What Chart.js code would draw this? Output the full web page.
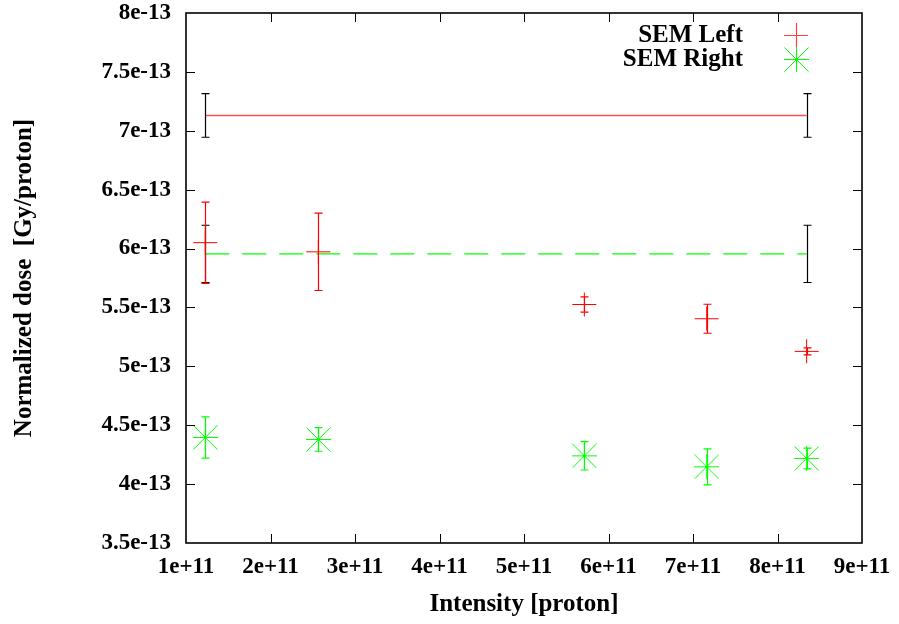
<!DOCTYPE html>
<html>
<head>
<meta charset="utf-8">
<script src="https://cdn.jsdelivr.net/npm/chart.js@4.4.1/dist/chart.umd.min.js"></script>
<style>
  html, body { margin: 0; padding: 0; background: #fff; }
  #wrap { width: 899px; height: 624px; position: relative; }
</style>
</head>
<body>
<div id="wrap"><canvas id="doseChart"></canvas></div>
<script>
// measured points
const intensity = [1.228e11, 2.566e11, 5.714e11, 7.162e11, 8.345e11];
const semLeft = [6.05e-13, 5.972e-13, 5.525e-13, 5.404e-13, 5.127e-13];
const semLeftErr = [0.345e-13, 0.328e-13, 0.065e-13, 0.123e-13, 0.03e-13];
const semRight = [4.396e-13, 4.379e-13, 4.24e-13, 4.147e-13, 4.218e-13];
const semRightErr = [0.175e-13, 0.1e-13, 0.12e-13, 0.153e-13, 0.088e-13];

// mean levels with their errors
const leftMean = 7.13e-13;
const leftMeanErr = 0.185e-13;
const rightMean = 5.955e-13;
const rightMeanErr = 0.243e-13;

const xTickLabels = ["1e+11", "2e+11", "3e+11", "4e+11", "5e+11", "6e+11", "7e+11", "8e+11", "9e+11"];
const yTickLabels = ["3.5e-13", "4e-13", "4.5e-13", "5e-13", "5.5e-13", "6e-13", "6.5e-13", "7e-13", "7.5e-13", "8e-13"];
const xTickValues = xTickLabels.map(Number);
const yTickValues = yTickLabels.map(Number);

const RED = "#ff0000";
const GREEN = "#00ff00";
const FONT = "'Liberation Serif', 'Times New Roman', serif";

// gnuplot style star: plus with full length diagonals
function makeStar(r, color) {
  const c = document.createElement("canvas");
  c.width = c.height = 2 * r + 1;
  const g = c.getContext("2d");
  const m = r + 0.5;
  g.strokeStyle = color;
  g.lineWidth = 1;
  g.beginPath();
  g.moveTo(0, m); g.lineTo(2 * r + 1, m);
  g.moveTo(m, 0); g.lineTo(m, 2 * r + 1);
  g.moveTo(0.5, 0.5); g.lineTo(2 * r + 0.5, 2 * r + 0.5);
  g.moveTo(2 * r + 0.5, 0.5); g.lineTo(0.5, 2 * r + 0.5);
  g.stroke();
  return c;
}
const star = makeStar(12, GREEN);

const toPoints = (ys) => ys.map((y, i) => ({ x: intensity[i], y: y }));
const span = [intensity[0], intensity[intensity.length - 1]];

const errorBars = {
  id: "errorBars",
  afterDatasetsDraw(chart) {
    const ctx = chart.ctx;
    const ys = chart.scales.y;
    chart.data.datasets.forEach((ds, di) => {
      if (!ds.yErr) return;
      const meta = chart.getDatasetMeta(di);
      ctx.save();
      ctx.strokeStyle = ds.errColor || ds.borderColor;
      ctx.lineWidth = 1.2;
      meta.data.forEach((el, i) => {
        const err = ds.yErr[i];
        if (err == null) return;
        const v = ds.data[i].y;
        const x = Math.round(el.x) + 0.5;
        const top = ys.getPixelForValue(v + err);
        const bot = ys.getPixelForValue(v - err);
        ctx.beginPath();
        ctx.moveTo(x, top); ctx.lineTo(x, bot);
        ctx.moveTo(x - 4, top); ctx.lineTo(x + 4, top);
        ctx.moveTo(x - 4, bot); ctx.lineTo(x + 4, bot);
        ctx.stroke();
      });
      ctx.restore();
    });
  }
};

// frame, inward ticks on all sides, and the key
const frame = {
  id: "frame",
  afterDraw(chart) {
    const { ctx, chartArea: a, scales } = chart;
    ctx.save();
    ctx.strokeStyle = "#000";
    ctx.lineWidth = 1;
    ctx.beginPath();
    xTickValues.slice(1, -1).forEach((v) => {
      const x = Math.round(scales.x.getPixelForValue(v)) + 0.5;
      ctx.moveTo(x, a.bottom); ctx.lineTo(x, a.bottom - 9);
      ctx.moveTo(x, a.top); ctx.lineTo(x, a.top + 9);
    });
    yTickValues.slice(1, -1).forEach((v) => {
      const y = Math.round(scales.y.getPixelForValue(v)) + 0.5;
      ctx.moveTo(a.left, y); ctx.lineTo(a.left + 9, y);
      ctx.moveTo(a.right, y); ctx.lineTo(a.right - 9, y);
    });
    ctx.stroke();
    ctx.lineWidth = 1.6;
    ctx.strokeRect(a.left, a.top, a.right - a.left, a.bottom - a.top);

    // key
    ctx.fillStyle = "#000";
    ctx.font = "bold 25px " + FONT;
    ctx.textAlign = "right";
    ctx.textBaseline = "middle";
    ctx.fillText("SEM Left", 743, 36);
    ctx.fillText("SEM Right", 743, 60);
    ctx.strokeStyle = "#ff4040";
    ctx.lineWidth = 1.2;
    ctx.beginPath();
    ctx.moveTo(784, 35.5); ctx.lineTo(808, 35.5);
    ctx.moveTo(796.5, 23); ctx.lineTo(796.5, 47);
    ctx.stroke();
    ctx.drawImage(star, 796 - 12, 59 - 12);
    ctx.restore();
  }
};

const ctx = document.getElementById("doseChart");
new Chart(ctx, {
  type: "scatter",
  data: {
    datasets: [
      {
        label: "SEM Left mean",
        data: span.map((x) => ({ x: x, y: leftMean })),
        showLine: true,
        borderColor: "#ff5050",
        borderWidth: 1.4,
        pointRadius: 0,
        yErr: [leftMeanErr, leftMeanErr],
        errColor: "#000"
      },
      {
        label: "SEM Right mean",
        data: span.map((x) => ({ x: x, y: rightMean })),
        showLine: true,
        borderColor: GREEN,
        borderWidth: 1.2,
        borderDash: [24, 13],
        pointRadius: 0,
        yErr: [rightMeanErr, rightMeanErr],
        errColor: "#000"
      },
      {
        label: "SEM Left",
        data: toPoints(semLeft),
        yErr: semLeftErr,
        borderColor: RED,
        backgroundColor: RED,
        pointStyle: "cross",
        pointRadius: 12,
        pointBorderWidth: 1
      },
      {
        label: "SEM Right",
        data: toPoints(semRight),
        yErr: semRightErr,
        borderColor: GREEN,
        backgroundColor: GREEN,
        pointStyle: star,
        pointRadius: 12
      }
    ]
  },
  options: {
    responsive: true,
    maintainAspectRatio: false,
    animation: false,
    layout: { padding: { top: 13, right: 37, left: 0, bottom: 0 } },
    plugins: {
      legend: { display: false },
      tooltip: { enabled: false }
    },
    scales: {
      x: {
        type: "linear",
        min: 1e11,
        max: 9e11,
        afterBuildTicks: (s) => { s.ticks = xTickValues.map((v) => ({ value: v })); },
        afterFit: (s) => { s.height = 81; },
        // invisible outer tick marks just push the labels off the frame
        grid: { display: true, drawOnChartArea: false, drawTicks: true, tickLength: 13, tickColor: "rgba(0,0,0,0)" },
        border: { display: false },
        ticks: {
          callback: (v, i) => xTickLabels[i],
          color: "#000",
          padding: 0,
          maxRotation: 0,
          autoSkip: false,
          font: { family: FONT, size: 23, weight: "bold", lineHeight: 1 }
        },
        title: {
          display: true,
          text: "Intensity [proton]",
          color: "#000",
          padding: { top: 0, bottom: 4 },
          font: { family: FONT, size: 25, weight: "bold", lineHeight: 1.2 }
        }
      },
      y: {
        min: 3.5e-13,
        max: 8e-13,
        afterBuildTicks: (s) => { s.ticks = yTickValues.map((v) => ({ value: v })); },
        afterFit: (s) => { s.width = 186; },
        grid: { display: true, drawOnChartArea: false, drawTicks: true, tickLength: 15, tickColor: "rgba(0,0,0,0)" },
        border: { display: false },
        ticks: {
          callback: (v, i) => yTickLabels[i],
          color: "#000",
          padding: 0,
          autoSkip: false,
          font: { family: FONT, size: 23, weight: "bold", lineHeight: 1 }
        },
        title: {
          display: true,
          text: "Normalized dose  [Gy/proton]",
          color: "#000",
          padding: { top: 10, bottom: 0 },
          font: { family: FONT, size: 25, weight: "bold", lineHeight: 1.2 }
        }
      }
    }
  },
  plugins: [errorBars, frame]
});
</script>
</body>
</html>
